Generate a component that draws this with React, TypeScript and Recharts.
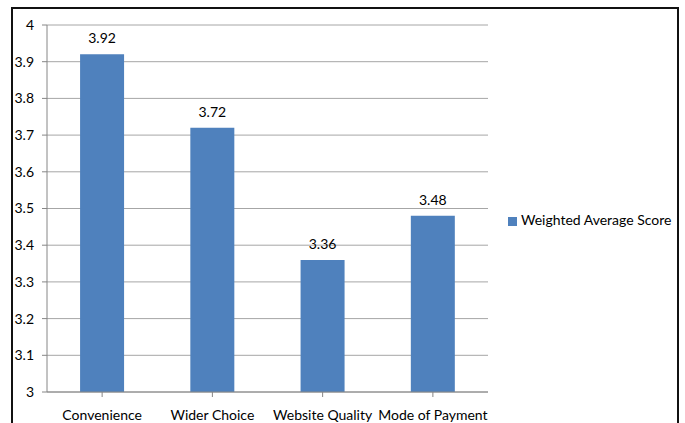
import { Bar, BarChart, CartesianGrid, LabelList, Legend, XAxis, YAxis } from "recharts";

const categories = ["Convenience", "Wider Choice", "Website Quality", "Mode of Payment"];
const scores = [3.92, 3.72, 3.36, 3.48];
const yTicks = [3, 3.1, 3.2, 3.3, 3.4, 3.5, 3.6, 3.7, 3.8, 3.9, 4];
const seriesName = "Weighted Average Score";

const data = categories.map((name, i) => ({ name, score: scores[i] }));

const font = "Lato, 'Open Sans', sans-serif";

export default function App() {
  return (
    <div
      style={{
        position: "absolute",
        left: 0,
        top: 0,
        width: 685,
        height: 423,
        overflow: "hidden",
        background: "#fff",
        fontFamily: font,
      }}
    >
      <div
        style={{
          position: "absolute",
          left: 11,
          top: 7,
          width: 668,
          height: 440,
          border: "2px solid #111",
          boxSizing: "border-box",
        }}
      />
      <div style={{ position: "absolute", left: 0, top: 0 }}>
        <BarChart
          width={685}
          height={423}
          data={data}
          margin={{ top: 25, right: 17, left: 0, bottom: 1 }}
          barCategoryGap="30%"
        >
          <CartesianGrid vertical={false} stroke="#a6a6a6" />
          <XAxis
            dataKey="name"
            interval={0}
            height={30}
            tickSize={5}
            tickMargin={13}
            stroke="#868686"
            tick={{ fill: "#000", fontSize: 14, fontFamily: font }}
          />
          <YAxis
            width={47}
            domain={[3, 4]}
            ticks={yTicks}
            interval={0}
            tickSize={5}
            tickMargin={8}
            stroke="#868686"
            allowDataOverflow
            tick={{ fill: "#000", fontSize: 14, fontFamily: font }}
          />
          <Legend
            layout="vertical"
            verticalAlign="middle"
            align="right"
            iconType="square"
            iconSize={9}
            width={180}
            wrapperStyle={{ left: 508, top: 211, fontSize: 14, fontFamily: font }}
            formatter={(v) => <span style={{ color: "#000" }}>{v}</span>}
          />
          <Bar dataKey="score" name={seriesName} fill="#4F81BD" isAnimationActive={false}>
            <LabelList dataKey="score" position="top" offset={11} fill="#000" fontSize={14} fontFamily={font} />
          </Bar>
        </BarChart>
      </div>
    </div>
  );
}
